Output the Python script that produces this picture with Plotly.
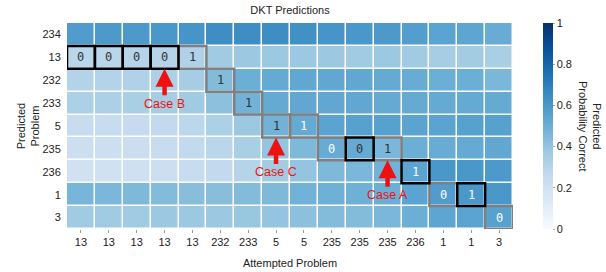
import plotly.graph_objects as go

x_labels = ["13", "13", "13", "13", "13", "232", "233", "5", "5",
            "235", "235", "235", "236", "1", "1", "3"]
y_labels = ["234", "13", "232", "233", "5", "235", "236", "1", "3"]

row_234 = [0.58, 0.59, 0.59, 0.60, 0.61, 0.64, 0.64, 0.64, 0.63, 0.61, 0.60, 0.59, 0.57, 0.55, 0.54, 0.51]
row_13 = [0.29, 0.29, 0.30, 0.30, 0.32, 0.37, 0.38, 0.38, 0.38, 0.38, 0.37, 0.38, 0.37, 0.35, 0.36, 0.34]
row_232 = [0.31, 0.31, 0.32, 0.33, 0.35, 0.44, 0.50, 0.52, 0.53, 0.53, 0.53, 0.52, 0.51, 0.50, 0.50, 0.46]
row_233 = [0.33, 0.33, 0.34, 0.35, 0.37, 0.42, 0.48, 0.52, 0.53, 0.53, 0.53, 0.52, 0.52, 0.52, 0.52, 0.52]
row_5 = [0.24, 0.24, 0.25, 0.26, 0.28, 0.33, 0.38, 0.48, 0.52, 0.55, 0.56, 0.56, 0.55, 0.55, 0.56, 0.56]
row_235 = [0.22, 0.22, 0.23, 0.24, 0.26, 0.29, 0.34, 0.40, 0.45, 0.51, 0.52, 0.46, 0.50, 0.51, 0.52, 0.53]
row_236 = [0.20, 0.20, 0.21, 0.22, 0.24, 0.26, 0.30, 0.36, 0.40, 0.45, 0.46, 0.48, 0.55, 0.60, 0.60, 0.59]
row_1 = [0.47, 0.46, 0.45, 0.44, 0.43, 0.43, 0.44, 0.45, 0.48, 0.49, 0.49, 0.50, 0.55, 0.58, 0.60, 0.60]
row_3 = [0.37, 0.37, 0.37, 0.38, 0.38, 0.38, 0.39, 0.40, 0.42, 0.44, 0.44, 0.46, 0.50, 0.54, 0.55, 0.56]
z_values = [row_234, row_13, row_232, row_233, row_5, row_235, row_236, row_1, row_3]

# highlighted (actual response) cells
box_rows = [1, 1, 1, 1, 1, 2, 3, 4, 4, 5, 5, 5, 6, 7, 7, 8]
box_cols = [0, 1, 2, 3, 4, 5, 6, 7, 8, 9, 10, 11, 12, 13, 14, 15]
box_labels = ["0", "0", "0", "0", "1", "1", "1", "1", "1", "0", "0", "1", "1", "0", "1", "0"]
box_wrong = [True, True, True, True, False, False, False, False, False,
             False, True, False, True, False, True, False]
box_text_dark = [True, True, True, True, True, True, True, True, False,
                 False, True, True, False, False, False, False]

case_labels = ["Case B", "Case C", "Case A"]
case_cols = [3, 7, 11]
case_rows = [1, 4, 5]

blues = [[0.0, "rgb(247,251,255)"], [0.125, "rgb(222,235,247)"], [0.25, "rgb(198,219,239)"],
         [0.375, "rgb(158,202,225)"], [0.5, "rgb(107,174,214)"], [0.625, "rgb(66,146,198)"],
         [0.75, "rgb(33,113,181)"], [0.875, "rgb(8,81,156)"], [1.0, "rgb(8,48,107)"]]

FONT = "Liberation Sans, Arial, sans-serif"

fig = go.Figure()
fig.add_trace(go.Heatmap(
    z=z_values,
    x=list(range(len(x_labels))),
    y=list(range(len(y_labels))),
    zmin=0, zmax=1,
    colorscale=blues,
    xgap=1.5, ygap=1.5,
    hoverinfo="skip",
    colorbar=dict(
        x=1.067, xanchor="left", xpad=0,
        y=0.5, yanchor="middle", ypad=0, len=1.0,
        thickness=10, outlinewidth=0,
        tickvals=[0, 0.2, 0.4, 0.6, 0.8, 1],
        ticktext=["0", "0.2", "0.4", "0.6", "0.8", "1"],
        ticks="outside", ticklen=2, tickcolor="#aaaaaa",
        tickfont=dict(size=11, color="#222222", family=FONT),
    ),
))

shapes = []
annotations = []
order = sorted(range(len(box_cols)), key=lambda i: box_wrong[i])
for i in order:
    c, r = box_cols[i], box_rows[i]
    shapes.append(dict(type="rect", xref="x", yref="y",
                       x0=c - 0.5, x1=c + 0.5, y0=r - 0.5, y1=r + 0.5,
                       line=dict(color="black" if box_wrong[i] else "#808080", width=2.5),
                       fillcolor="rgba(0,0,0,0)"))
for i in range(len(box_cols)):
    annotations.append(dict(x=box_cols[i], y=box_rows[i], xref="x", yref="y",
                            text=box_labels[i], showarrow=False,
                            font=dict(size=12, family="DejaVu Sans Mono, monospace",
                                      color="#333333" if box_text_dark[i] else "white")))

for lab, c, r in zip(case_labels, case_cols, case_rows):
    annotations.append(dict(x=c, y=r + 0.5, xref="x", yref="y",
                            text=lab, showarrow=True, ax=0, ay=35,
                            arrowhead=2, arrowsize=0.8, arrowwidth=4.5,
                            arrowcolor="#ee1111", standoff=0, startstandoff=0,
                            font=dict(size=12.5, color="#ee1111", family=FONT)))

# colorbar title (rotated clockwise)
annotations.append(dict(x=(590 - 67) / 446, y=0.5, xref="paper", yref="paper",
                        xanchor="center", yanchor="middle",
                        text="Predicted<br>Probability Correct", textangle=90,
                        showarrow=False,
                        font=dict(size=11, color="#222222", family=FONT)))

fig.update_layout(
    width=606, height=272,
    margin=dict(l=67, r=93, t=23, b=43, autoexpand=False),
    paper_bgcolor="white", plot_bgcolor="white",
    font=dict(family=FONT, size=11, color="#222222"),
    title=dict(text="DKT Predictions", x=(67 + 513) / 2 / 606, xanchor="center",
               y=1 - 10 / 272, yanchor="middle",
               font=dict(size=11, color="#222222", family=FONT)),
    shapes=shapes,
    annotations=annotations,
    xaxis=dict(tickvals=list(range(len(x_labels))), ticktext=x_labels,
               range=[-0.5, len(x_labels) - 0.5],
               ticks="outside", ticklen=3, tickcolor="#999999",
               showgrid=False, zeroline=False, showline=False,
               tickfont=dict(size=11, color="#222222"),
               title=dict(text="Attempted Problem", standoff=12,
                          font=dict(size=11, color="#222222"))),
    yaxis=dict(tickvals=list(range(len(y_labels))), ticktext=y_labels,
               range=[len(y_labels) - 0.5, -0.5],
               ticks="outside", ticklen=3, tickcolor="rgba(0,0,0,0)",
               showgrid=False, zeroline=False, showline=False,
               tickfont=dict(size=11, color="#222222"),
               title=dict(text="Predicted<br>Problem", standoff=0,
                          font=dict(size=11, color="#222222"))),
)

fig.write_html("out.html", config={"displayModeBar": False},
               post_script="document.body.style.margin='0';document.body.style.overflow='hidden';")
